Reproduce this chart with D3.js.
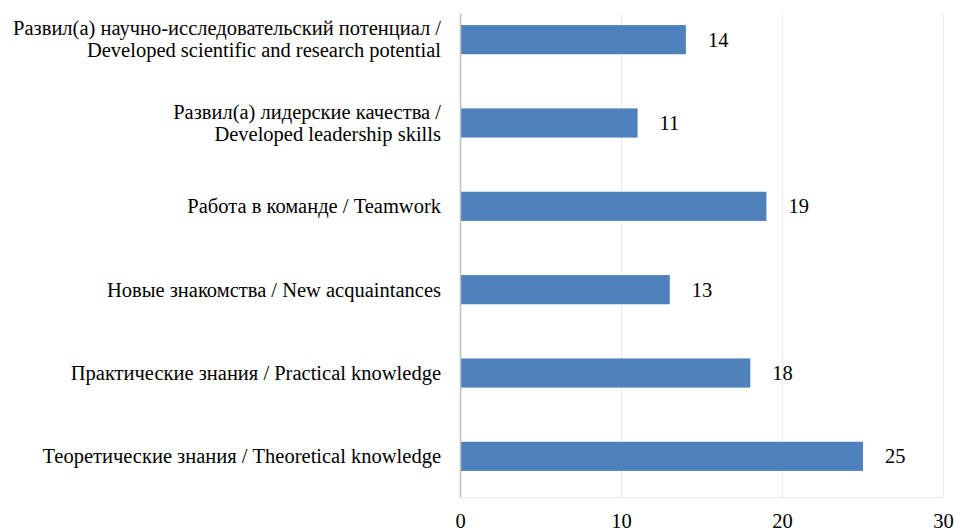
<!DOCTYPE html>
<html><head><meta charset="utf-8">
<script src="https://cdn.jsdelivr.net/npm/d3@7"></script>
<style>body{margin:0;background:#fff}svg{display:block}text{font-family:"Liberation Serif","Times New Roman",serif;fill:#000}</style>
</head><body>
<svg id="c" width="954" height="532"></svg>
<script>
const categories = [
  ["Развил(а) научно-исследовательский потенциал /", "Developed scientific and research potential"],
  ["Развил(а) лидерские качества /", "Developed leadership skills"],
  ["Работа в команде / Teamwork"],
  ["Новые знакомства / New acquaintances"],
  ["Практические знания / Practical knowledge"],
  ["Теоретические знания / Theoretical knowledge"]
];
const values = [14, 11, 19, 13, 18, 25];
const ticks = [0, 10, 20, 30];

const svg = d3.select("#c");
const x = d3.scaleLinear().domain([0, 30]).range([460.5, 943.5]);
const y = d3.scaleBand().domain(d3.range(categories.length)).range([-2, 498]).paddingInner(0.65).paddingOuter(0.325);
const plotTop = 14, plotBottom = 497.5;
const fs = 20.5;

// gridlines
svg.append("g").selectAll("line").data(ticks.slice(1)).join("line")
  .attr("x1", d => x(d)).attr("x2", d => x(d)).attr("y1", plotTop).attr("y2", plotBottom)
  .attr("stroke", "#ebebeb").attr("stroke-width", 1);
svg.append("line").attr("x1", x(0)).attr("x2", x(30)).attr("y1", plotBottom).attr("y2", plotBottom)
  .attr("stroke", "#ebebeb");

// bars
svg.append("g").selectAll("rect").data(values).join("rect")
  .attr("x", x(0)).attr("y", (d, i) => y(i)).attr("width", d => x(d) - x(0)).attr("height", y.bandwidth())
  .attr("fill", "#4F81BD");

// axis line
svg.append("line").attr("x1", x(0)).attr("x2", x(0)).attr("y1", plotTop).attr("y2", plotBottom)
  .attr("stroke", "#bfbfbf").attr("stroke-width", 1.5);

// value labels
svg.append("g").selectAll("text").data(values).join("text")
  .attr("x", d => x(d) + 22).attr("y", (d, i) => y(i) + y.bandwidth() / 2 + 7)
  .attr("font-size", fs).text(d => d);

// category labels
svg.append("g").selectAll("text").data(categories).join("text")
  .attr("text-anchor", "end").attr("font-size", fs)
  .each(function(lines, i) {
    const t = d3.select(this);
    const c = y(i) + y.bandwidth() / 2;
    const n = lines.length;
    lines.forEach((s, j) => {
      t.append("tspan").attr("x", 441)
        .attr("y", n === 1 ? c + 7 : c - 4.5 + j * 22).text(s);
    });
  });

// x tick labels
svg.append("g").selectAll("text").data(ticks).join("text")
  .attr("x", d => x(d)).attr("y", 527.5).attr("text-anchor", "middle")
  .attr("font-size", fs).text(d => d);
</script>
</body></html>
